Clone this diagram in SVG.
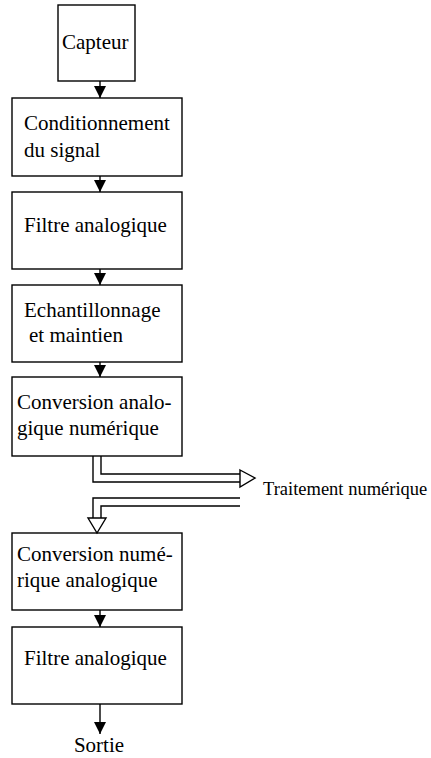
<svg xmlns="http://www.w3.org/2000/svg" width="431" height="758" viewBox="0 0 431 758">
<style>
.box{fill:#fff;stroke:#000;stroke-width:1.4}
text{font-family:'Liberation Serif','Times New Roman','DejaVu Serif',serif;font-size:21px;fill:#000}
text.sm{font-size:18.5px}
.ln{fill:none;stroke:#000;stroke-width:1.4}
.hol{fill:#fff;stroke:#000;stroke-width:1.4}
</style>
<defs>
<marker id="ah" markerUnits="userSpaceOnUse" markerWidth="12" markerHeight="12" refX="12" refY="6" orient="auto">
<path d="M0,0 L12,6 L0,12 z" fill="#000"/>
</marker>
</defs>
<rect width="431" height="758" fill="#fff"/>
<g id="n1"><rect class="box" x="58" y="5" width="77" height="76"/><text x="62" y="49">Capteur</text></g>
<g id="n2"><rect class="box" x="12" y="98" width="170" height="78"/><text x="24" y="130">Conditionnement</text><text x="24" y="157">du signal</text></g>
<g id="n3"><rect class="box" x="12" y="192" width="170" height="77"/><text x="24" y="232">Filtre analogique</text></g>
<g id="n4"><rect class="box" x="12" y="285" width="170" height="77"/><text x="24" y="317">Echantillonnage</text><text x="29" y="342">et maintien</text></g>
<g id="n5"><rect class="box" x="12" y="377" width="170" height="79"/><text x="17" y="409">Conversion analo-</text><text x="17" y="435">gique numérique</text></g>
<g id="n6"><text class="sm" x="263" y="495">Traitement numérique</text></g>
<g id="n7"><rect class="box" x="12" y="533" width="170" height="77"/><text x="17" y="561">Conversion numé-</text><text x="17" y="587">rique analogique</text></g>
<g id="n8"><rect class="box" x="12" y="627" width="170" height="77"/><text x="24" y="665">Filtre analogique</text></g>
<g id="n9"><text x="99" y="752" text-anchor="middle">Sortie</text></g>
<g id="connectors">
<line class="ln" x1="100" y1="81" x2="100" y2="98" marker-end="url(#ah)"/>
<line class="ln" x1="100" y1="176" x2="100" y2="192" marker-end="url(#ah)"/>
<line class="ln" x1="100" y1="269" x2="100" y2="285" marker-end="url(#ah)"/>
<line class="ln" x1="100" y1="362" x2="100" y2="377" marker-end="url(#ah)"/>
<path class="ln" d="M93,456 V482 H240"/>
<path class="ln" d="M101,456 V474 H240"/>
<polygon class="hol" points="240,470 255,478 240,487"/>
<path class="ln" d="M240,498 H93 V518"/>
<path class="ln" d="M240,506 H101 V518"/>
<polygon class="hol" points="88,518 106,518 97,533"/>
<line class="ln" x1="100" y1="610" x2="100" y2="627" marker-end="url(#ah)"/>
<line class="ln" x1="100" y1="704" x2="100" y2="734" marker-end="url(#ah)"/>
</g>
</svg>
